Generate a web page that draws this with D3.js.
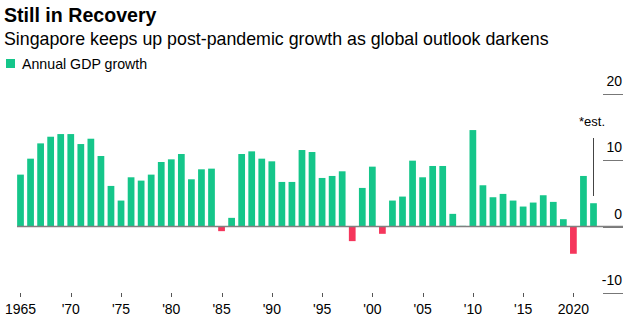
<!DOCTYPE html>
<head>
  <meta charset="utf-8">
  <script src="https://d3js.org/d3.v7.min.js"></script>
  <style>
    body { margin: 0; background: #fff; }
    svg { width: 635px; height: 326px; font-family: "Liberation Sans", Arial, sans-serif; }
  </style>
</head>
<body>
  <svg></svg>
  <script>
    var years = d3.range(1965, 2023);
    var growth = [
      7.8, 10.2, 12.5, 13.5, 13.9, 13.9, 12.4, 13.2, 10.6, 6.1,
      3.9, 7.4, 6.9, 7.8, 9.7, 10.1, 10.9, 7.1, 8.6, 8.7,
      -0.7, 1.3, 10.9, 11.3, 10.2, 9.8, 6.7, 6.7, 11.5, 11.2,
      7.3, 7.6, 8.3, -2.2, 5.8, 9.0, -1.1, 3.9, 4.5, 9.9,
      7.4, 9.1, 9.1, 1.9, 0.1, 14.5, 6.2, 4.4, 4.9, 3.9,
      3.0, 3.6, 4.7, 3.7, 1.1, -4.1, 7.6, 3.5
    ];
    var yTicks = [20, 10, 0, -10];
    var xTicks = d3.range(1965, 2021, 5);
    var xTickLabels = ['1965', "'70", "'75", "'80", "'85", "'90", "'95", "'00", "'05", "'10", "'15", '2020'];

    var svg = d3.select('svg');

    var step = (593.5 - 20.5) / (years.length - 1);
    var x = d3.scaleBand()
      .domain(years)
      .range([20.5 - step / 2, 593.5 + step / 2])
      .paddingInner(0.33)
      .paddingOuter(0.165);
    var y = d3.scaleLinear().domain([-10, 20]).range([293, 93.5]);

    // titles
    svg.append('text').attr('x', 4).attr('y', 22)
      .attr('font-size', 19.6).attr('font-weight', 'bold').attr('fill', '#000')
      .text('Still in Recovery');
    svg.append('text').attr('x', 4).attr('y', 45)
      .attr('font-size', 17.8).attr('fill', '#000')
      .text('Singapore keeps up post-pandemic growth as global outlook darkens');

    // legend
    svg.append('rect').attr('x', 6).attr('y', 59).attr('width', 9).attr('height', 9)
      .attr('fill', '#15c68a');
    svg.append('text').attr('x', 22).attr('y', 69)
      .attr('font-size', 14.2).attr('fill', '#000')
      .text('Annual GDP growth');

    // right-hand gridline stubs and labels
    var yg = svg.append('g');
    yg.selectAll('line').data(yTicks).enter().append('line')
      .attr('x1', 603).attr('x2', 623)
      .attr('y1', function(d) { return Math.round(y(d)) + 0.5; })
      .attr('y2', function(d) { return Math.round(y(d)) + 0.5; })
      .attr('stroke', '#777').attr('stroke-width', 1);
    yg.selectAll('text').data(yTicks).enter().append('text')
      .attr('x', 622).attr('y', function(d) { return y(d) - 8; })
      .attr('text-anchor', 'end').attr('font-size', 14).attr('fill', '#000')
      .text(function(d) { return d; });

    // bars
    svg.append('g').selectAll('rect').data(growth).enter().append('rect')
      .attr('x', function(d, i) { return x(years[i]); })
      .attr('width', x.bandwidth())
      .attr('y', function(d) { return d >= 0 ? y(d) : y(0); })
      .attr('height', function(d) { return Math.abs(y(d) - y(0)); })
      .attr('fill', function(d) { return d >= 0 ? '#15c68a' : '#f5365c'; });

    // zero line
    svg.append('line')
      .attr('x1', 17).attr('x2', 623)
      .attr('y1', y(0)).attr('y2', y(0))
      .attr('stroke', '#808080').attr('stroke-width', 1.5);

    // x axis ticks
    var xc = function(yr) { return x(yr) + x.bandwidth() / 2; };
    var xg = svg.append('g');
    xg.selectAll('line').data(xTicks).enter().append('line')
      .attr('x1', function(d) { return Math.round(xc(d)) + 0.5; })
      .attr('x2', function(d) { return Math.round(xc(d)) + 0.5; })
      .attr('y1', 293).attr('y2', 297)
      .attr('stroke', '#555').attr('stroke-width', 1);
    xg.selectAll('text').data(xTicks).enter().append('text')
      .attr('x', function(d) { return xc(d); }).attr('y', 314)
      .attr('text-anchor', 'middle').attr('font-size', 14).attr('fill', '#000')
      .text(function(d, i) { return xTickLabels[i]; });

    // estimate annotation
    svg.append('line')
      .attr('x1', 593.5).attr('x2', 593.5).attr('y1', 138).attr('y2', 196)
      .attr('stroke', '#444').attr('stroke-width', 1);
    svg.append('text').attr('x', 592).attr('y', 126)
      .attr('text-anchor', 'middle').attr('font-size', 13).attr('fill', '#000')
      .text('*est.');
  </script>
</body>
